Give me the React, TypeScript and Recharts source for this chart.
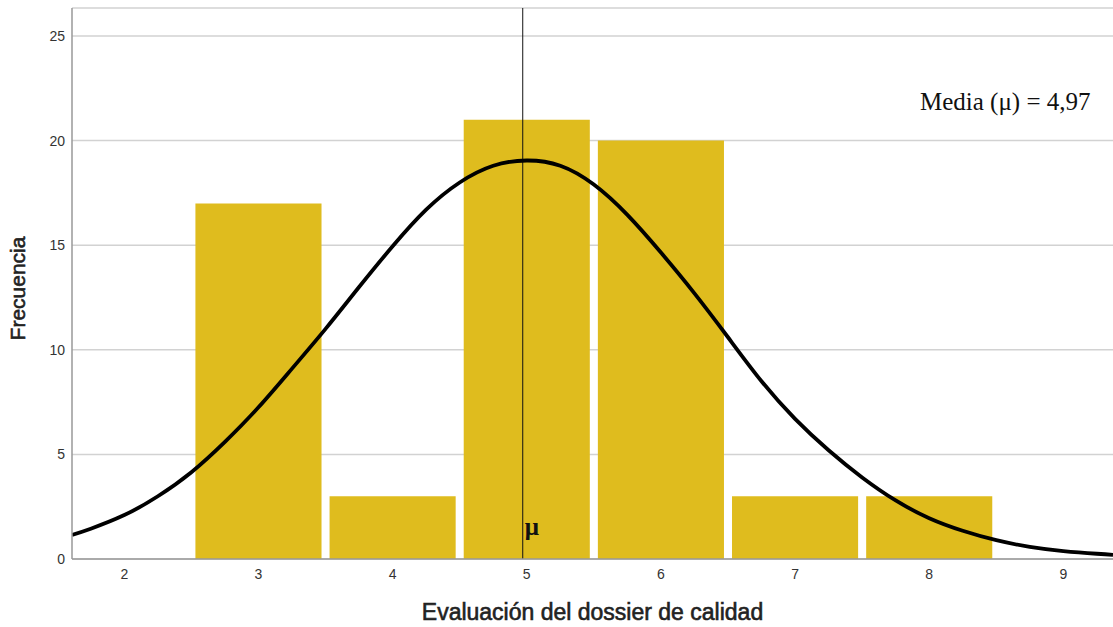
import React from "react";
import {
  ComposedChart,
  Line,
  XAxis,
  YAxis,
  CartesianGrid,
  ReferenceArea,
  ReferenceLine,
} from "recharts";

// histogram bins (value -> frequency)
const binCenters = [3, 4, 5, 6, 7, 8];
const frequencies = [17, 3, 21, 20, 3, 3];

// normal curve
const curveX = [
  1.61, 1.75, 2.0, 2.25, 2.5, 2.75, 3.0, 3.25, 3.5, 3.75, 4.0, 4.25, 4.5, 4.75,
  5.0, 5.25, 5.5, 5.75, 6.0, 6.25, 6.5, 6.75, 7.0, 7.25, 7.5, 7.75, 8.0, 8.25,
  8.5, 8.75, 9.0, 9.25, 9.37,
];
const curveY = [
  1.15, 1.45, 2.1, 3.0, 4.15, 5.6, 7.25, 9.1, 11.0, 13.0, 14.95, 16.7, 18.0,
  18.8, 19.05, 18.8, 17.9, 16.45, 14.65, 12.7, 10.6, 8.5, 6.7, 5.2, 3.9, 2.8,
  1.95, 1.35, 0.9, 0.58, 0.38, 0.25, 0.2,
];

const meanValue = 4.97;
const xTicks = [2, 3, 4, 5, 6, 7, 8, 9];
const yTicks = [0, 5, 10, 15, 20, 25];

const BAR_COLOR = "#DFBC1E";
const HALF_WIDTH = 0.47;
const SANS = "'Liberation Sans', Arial, sans-serif";
const SERIF = "'Liberation Serif', 'Times New Roman', serif";

const curveData = curveX.map((x, i) => ({ x, y: curveY[i] }));

const tickStyle = { fontFamily: SANS, fontSize: 14, fill: "#333" };

const YLabel = (props: any) => {
  const vb = props.viewBox;
  const cy = vb.y + vb.height / 2 + 5;
  return (
    <text
      x={25}
      y={cy}
      transform={`rotate(-90, 25, ${cy})`}
      textAnchor="middle"
      stroke="#222"
      strokeWidth={0.6}
      style={{ fontFamily: SANS, fontSize: 21, fill: "#222" }}
    >
      Frecuencia
    </text>
  );
};

const XLabel = (props: any) => {
  const vb = props.viewBox;
  return (
    <text
      x={vb.x + vb.width / 2}
      y={vb.y + 61}
      textAnchor="middle"
      stroke="#222"
      strokeWidth={0.6}
      style={{ fontFamily: SANS, fontSize: 23, fill: "#222" }}
    >
      Evaluación del dossier de calidad
    </text>
  );
};

const MuLabel = (props: any) => {
  const vb = props.viewBox;
  return (
    <text
      x={vb.x + 2}
      y={vb.y + vb.height - 24}
      style={{ fontFamily: SERIF, fontSize: 25, fontWeight: "bold", fill: "#111" }}
    >
      μ
    </text>
  );
};

export default function App() {
  return (
    <div style={{ position: "absolute", left: 0, top: 0, width: 1113, height: 627, background: "#fff" }}>
      <ComposedChart
        width={1113}
        height={627}
        data={curveData}
        margin={{ top: 8, right: 0, bottom: 0, left: 0 }}
      >
        <CartesianGrid horizontal vertical={false} stroke="#d2d2d2" strokeWidth={1.5} />
        <XAxis
          dataKey="x"
          type="number"
          domain={[1.61, 9.37]}
          ticks={xTicks}
          allowDataOverflow
          height={68}
          tickLine={false}
          tickSize={0}
          tickMargin={10}
          tick={tickStyle}
          axisLine={{ stroke: "#999", strokeWidth: 1.5 }}
          label={<XLabel />}
        />
        <YAxis
          type="number"
          domain={[0, 26.34]}
          ticks={yTicks}
          allowDataOverflow
          width={72}
          tickLine={false}
          tickSize={0}
          tickMargin={7}
          tick={tickStyle}
          axisLine={{ stroke: "#999", strokeWidth: 1.5 }}
          label={<YLabel />}
        />
        {binCenters.map((c, i) => (
          <ReferenceArea
            key={c}
            x1={c - HALF_WIDTH}
            x2={c + HALF_WIDTH}
            y1={0}
            y2={frequencies[i]}
            fill={BAR_COLOR}
            fillOpacity={1}
            stroke="none"
          />
        ))}
        <ReferenceLine x={meanValue} stroke="#111" strokeWidth={1} label={<MuLabel />} />
        <Line
          dataKey="y"
          type="natural"
          stroke="#000"
          strokeWidth={3.8}
          dot={false}
          isAnimationActive={false}
        />
      </ComposedChart>
      <div
        style={{
          position: "absolute",
          left: 920,
          top: 88,
          fontFamily: SERIF,
          fontSize: 25,
          color: "#111",
          whiteSpace: "nowrap",
        }}
      >
        Media (μ) = 4,97
      </div>
    </div>
  );
}
